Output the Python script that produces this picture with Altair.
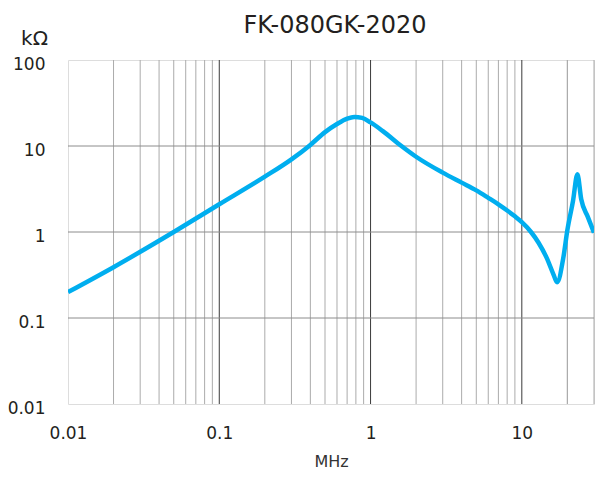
import altair as alt
import pandas as pd

# Impedance curve (MHz, kOhm)
freq = [0.01, 0.02, 0.05, 0.1, 0.2, 0.3, 0.4, 0.5, 0.6, 0.7, 0.78, 0.88, 1.0, 1.2,
        1.6, 2, 3, 4, 5, 6, 7, 8, 9, 10, 11.5, 12.9, 14.6, 16.2, 17.1, 18.8, 20,
        21.8, 23.3, 24.7, 27.3, 30]
imp = [0.2, 0.39, 1.0, 2.1, 4.4, 7.0, 10.3, 14.5, 18.0, 20.8, 21.8, 21.2, 18.8, 15.0,
       10.0, 7.5, 4.9, 3.75, 3.05, 2.5, 2.1, 1.78, 1.52, 1.3, 1.0, 0.75, 0.5, 0.32, 0.26,
       0.5, 1.05, 2.3, 4.7, 2.4, 1.5, 0.98]

# Grid positions
minor_x = [m * d for d in (0.01, 0.1, 1, 10) for m in range(2, 10)] + [20]
major_x = [0.1, 1, 10]
major_y = [0.1, 1, 10]
x_ticks = [0.01, 0.1, 1, 10]
y_ticks = [0.01, 0.1, 1, 10, 100]
title_text = ["FK-080GK-2020"]

FONT = "DejaVu Sans"
TXT = "#231f20"
W = 526

xscale = alt.Scale(type="log", domain=[0.01, 30], nice=False)
yscale = alt.Scale(type="log", domain=[0.01, 100], nice=False)

xaxis = alt.Axis(values=x_ticks, format="~g", grid=False, ticks=False, domain=False,
                 labelFlush=False, labelOverlap=False, labelFont=FONT, labelFontSize=17,
                 labelColor=TXT, labelBaseline="alphabetic", labelPadding=34,
                 title="MHz", titleFont=FONT, titleFontSize=16, titleFontWeight="normal",
                 titleColor="#333333", titleBaseline="alphabetic", titleY=62)
yaxis = alt.Axis(values=y_ticks, format="~g", grid=False, ticks=False, domain=False,
                 labelFlush=False, labelOverlap=False, labelFont=FONT, labelFontSize=17,
                 labelColor=TXT, labelBaseline="alphabetic", labelOffset=9, labelPadding=23,
                 title="kΩ", titleFont=FONT, titleFontSize=20, titleFontWeight="normal",
                 titleColor=TXT, titleAngle=0, titleAlign="center", titleBaseline="alphabetic",
                 titleX=-34, titleY=-16)

df = pd.DataFrame({"f": freq, "z": imp})
df_minor = pd.DataFrame({"f": minor_x})
df_major = pd.DataFrame({"f": major_x})
df_hy = pd.DataFrame({"z": major_y})
df_title = pd.DataFrame({"t": title_text})

minor = alt.Chart(df_minor).mark_rule(color="#ababab", strokeWidth=1).encode(
    x=alt.X("f:Q", scale=xscale, axis=xaxis))
major = alt.Chart(df_major).mark_rule(color="#3a3a3a", strokeWidth=1).encode(
    x=alt.X("f:Q", scale=xscale, axis=xaxis))
hgrid = alt.Chart(df_hy).mark_rule(color="#8c8c8c", strokeWidth=1).encode(
    y=alt.Y("z:Q", scale=yscale, axis=yaxis))
line = alt.Chart(df).mark_line(color="#00aeef", strokeWidth=4.5, interpolate="monotone",
                               clip=True).encode(
    x=alt.X("f:Q", scale=xscale, axis=xaxis),
    y=alt.Y("z:Q", scale=yscale, axis=yaxis))
title = alt.Chart(df_title).mark_text(font=FONT, fontSize=24, color=TXT, align="center",
                                      baseline="alphabetic").encode(
    text="t:N", x=alt.value(W / 2 + 4), y=alt.value(-27))

chart = alt.layer(minor, major, hgrid, line, title).properties(
    width=W, height=344,
    autosize=alt.AutoSizeParams(type="none"),
    padding={"left": 60, "top": 52, "right": 1, "bottom": 67},
).configure_view(stroke="#231f20", strokeWidth=1.2).configure(background="white")

chart.save("out.html", embed_options={"renderer": "svg", "actions": False})
